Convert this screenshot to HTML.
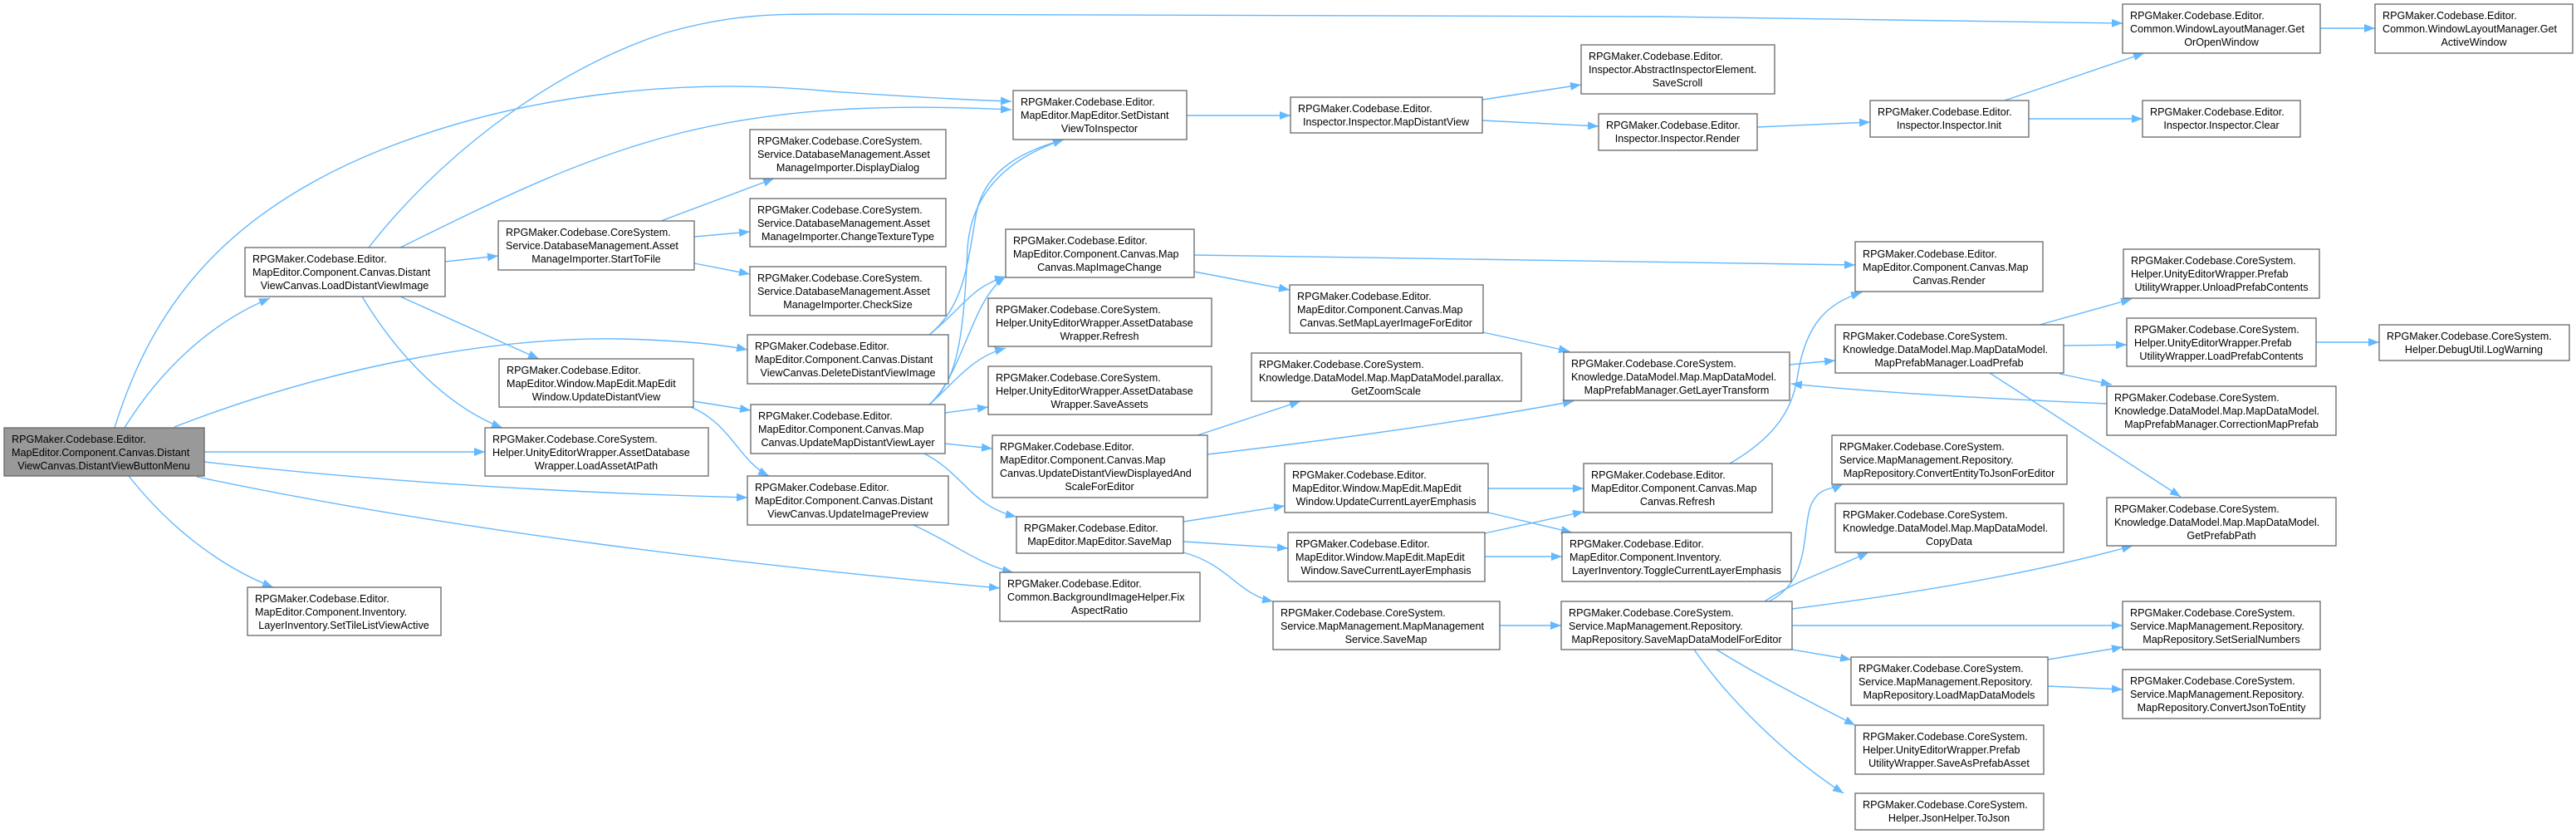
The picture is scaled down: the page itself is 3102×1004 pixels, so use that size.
<!DOCTYPE html>
<html><head><meta charset="utf-8"><style>
html,body{margin:0;padding:0;background:#fff;}
svg{display:block;}
text{font-family:"Liberation Sans",Arial,sans-serif;font-size:12.6px;fill:#000;}
.n{fill:#fff;stroke:#666;stroke-width:1.3;}
.m{fill:#999;stroke:#666;stroke-width:1.3;}
.e{fill:none;stroke:#63b8ff;stroke-width:1.4;}
</style></head><body>
<svg width="3102" height="1004" viewBox="0 0 3102 1004" xmlns="http://www.w3.org/2000/svg">
<defs><marker id="a" markerUnits="userSpaceOnUse" markerWidth="14" markerHeight="12" refX="13" refY="5" orient="auto"><path d="M0,0 L13,5 L0,10 z" fill="#63b8ff"/></marker></defs>
<g class="edges">
<path class="e" marker-end="url(#a)" d="M150,515 C190,450 250,390 325,359"/>
<path class="e" marker-end="url(#a)" d="M138,515 C180,380 260,260 460,180 C650,105 850,95 1000,110 C1100,117 1160,120 1218,122"/>
<path class="e" marker-end="url(#a)" d="M210,514 C400,440 600,405 750,408 C820,410 870,415 900,421"/>
<path class="e" marker-end="url(#a)" d="M246,544 L584,544"/>
<path class="e" marker-end="url(#a)" d="M246,556 C500,585 750,595 900,599"/>
<path class="e" marker-end="url(#a)" d="M237,574 C550,640 900,680 1204,708"/>
<path class="e" marker-end="url(#a)" d="M155,573 C200,630 260,680 329,707"/>
<path class="e" marker-end="url(#a)" d="M536,315 L600,308"/>
<path class="e" marker-end="url(#a)" d="M444,298 C520,200 650,90 800,40 C880,17 930,17 1000,17 L2000,20 L2556,28"/>
<path class="e" marker-end="url(#a)" d="M482,298 C600,240 700,190 820,160 C960,125 1100,127 1218,132"/>
<path class="e" marker-end="url(#a)" d="M482,357 L649,432"/>
<path class="e" marker-end="url(#a)" d="M436,357 C480,430 540,490 605,515"/>
<path class="e" marker-end="url(#a)" d="M796,266 L932,215"/>
<path class="e" marker-end="url(#a)" d="M836,285 L903,279"/>
<path class="e" marker-end="url(#a)" d="M836,317 L903,330"/>
<path class="e" marker-end="url(#a)" d="M835,483 L904,494"/>
<path class="e" marker-end="url(#a)" d="M832,490 C880,510 890,555 926,573"/>
<path class="e" marker-end="url(#a)" d="M1119,403 C1160,370 1165,320 1175,260 C1185,200 1240,180 1281,168"/>
<path class="e" marker-end="url(#a)" d="M1119,403 C1160,370 1170,345 1211,333"/>
<path class="e" marker-end="url(#a)" d="M1119,487 C1150,460 1160,420 1165,300 C1170,220 1230,185 1281,168"/>
<path class="e" marker-end="url(#a)" d="M1119,487 C1160,450 1170,360 1211,333"/>
<path class="e" marker-end="url(#a)" d="M1119,487 C1150,460 1170,430 1211,419"/>
<path class="e" marker-end="url(#a)" d="M1138,497 L1190,490"/>
<path class="e" marker-end="url(#a)" d="M1138,534 L1195,540"/>
<path class="e" marker-end="url(#a)" d="M1113,546 C1160,570 1170,610 1224,622"/>
<path class="e" marker-end="url(#a)" d="M1100,632 C1150,655 1180,680 1220,689"/>
<path class="e" marker-end="url(#a)" d="M1429,139 L1554,139"/>
<path class="e" marker-end="url(#a)" d="M1785,120 L1904,102"/>
<path class="e" marker-end="url(#a)" d="M1785,145 L1925,152"/>
<path class="e" marker-end="url(#a)" d="M2116,153 L2252,147"/>
<path class="e" marker-end="url(#a)" d="M2414,121 L2582,64"/>
<path class="e" marker-end="url(#a)" d="M2443,143 L2580,143"/>
<path class="e" marker-end="url(#a)" d="M2794,34 L2860,34"/>
<path class="e" marker-end="url(#a)" d="M1438,307 L2234,319"/>
<path class="e" marker-end="url(#a)" d="M1438,327 L1553,349"/>
<path class="e" marker-end="url(#a)" d="M1786,400 L1890,423"/>
<path class="e" marker-end="url(#a)" d="M1442,524 L1566,483"/>
<path class="e" marker-end="url(#a)" d="M1454,547 C1600,530 1750,510 1895,483"/>
<path class="e" marker-end="url(#a)" d="M2155,439 L2210,434"/>
<path class="e" marker-end="url(#a)" d="M2537,486 C2400,480 2250,472 2157,462"/>
<path class="e" marker-end="url(#a)" d="M2456,391 L2567,360"/>
<path class="e" marker-end="url(#a)" d="M2485,416 L2561,415"/>
<path class="e" marker-end="url(#a)" d="M2480,450 L2543,463"/>
<path class="e" marker-end="url(#a)" d="M2396,449 L2626,598"/>
<path class="e" marker-end="url(#a)" d="M2789,412 L2865,412"/>
<path class="e" marker-end="url(#a)" d="M2083,558 C2140,525 2160,490 2165,450 C2175,390 2200,365 2242,352"/>
<path class="e" marker-end="url(#a)" d="M1792,588 L1907,588"/>
<path class="e" marker-end="url(#a)" d="M1792,617 L1893,641"/>
<path class="e" marker-end="url(#a)" d="M1425,628 L1547,609"/>
<path class="e" marker-end="url(#a)" d="M1425,652 L1551,660"/>
<path class="e" marker-end="url(#a)" d="M1425,665 C1480,680 1490,715 1533,724"/>
<path class="e" marker-end="url(#a)" d="M1788,642 L1907,616"/>
<path class="e" marker-end="url(#a)" d="M1788,670 L1881,670"/>
<path class="e" marker-end="url(#a)" d="M1806,753 L1880,753"/>
<path class="e" marker-end="url(#a)" d="M2130,724 C2180,700 2170,640 2180,610 C2190,585 2205,590 2219,583"/>
<path class="e" marker-end="url(#a)" d="M2125,724 C2160,700 2200,688 2250,665"/>
<path class="e" marker-end="url(#a)" d="M2158,733 C2300,715 2450,690 2568,657"/>
<path class="e" marker-end="url(#a)" d="M2158,753 L2556,753"/>
<path class="e" marker-end="url(#a)" d="M2158,782 L2229,794"/>
<path class="e" marker-end="url(#a)" d="M2067,782 C2120,815 2180,845 2234,873"/>
<path class="e" marker-end="url(#a)" d="M2040,782 C2080,840 2150,910 2220,955"/>
<path class="e" marker-end="url(#a)" d="M2466,794 L2556,779"/>
<path class="e" marker-end="url(#a)" d="M2466,826 L2556,830"/>
</g>
<g class="nodes">
<rect class="m" x="5" y="515" width="241" height="58"/>
<text x="14" y="533">RPGMaker.Codebase.Editor.</text><text x="14" y="549">MapEditor.Component.Canvas.Distant</text><text x="125" y="565" text-anchor="middle">ViewCanvas.DistantViewButtonMenu</text>

<rect class="n" x="295" y="298" width="241" height="59"/>
<text x="304" y="316">RPGMaker.Codebase.Editor.</text><text x="304" y="332">MapEditor.Component.Canvas.Distant</text><text x="415" y="348" text-anchor="middle">ViewCanvas.LoadDistantViewImage</text>

<rect class="n" x="600" y="266" width="236" height="59"/>
<text x="609" y="284">RPGMaker.Codebase.CoreSystem.</text><text x="609" y="300">Service.DatabaseManagement.Asset</text><text x="718" y="316" text-anchor="middle">ManageImporter.StartToFile</text>

<rect class="n" x="903" y="156" width="236" height="59"/>
<text x="912" y="174">RPGMaker.Codebase.CoreSystem.</text><text x="912" y="190">Service.DatabaseManagement.Asset</text><text x="1021" y="206" text-anchor="middle">ManageImporter.DisplayDialog</text>

<rect class="n" x="903" y="239" width="236" height="58"/>
<text x="912" y="257">RPGMaker.Codebase.CoreSystem.</text><text x="912" y="273">Service.DatabaseManagement.Asset</text><text x="1021" y="289" text-anchor="middle">ManageImporter.ChangeTextureType</text>

<rect class="n" x="903" y="321" width="236" height="59"/>
<text x="912" y="339">RPGMaker.Codebase.CoreSystem.</text><text x="912" y="355">Service.DatabaseManagement.Asset</text><text x="1021" y="371" text-anchor="middle">ManageImporter.CheckSize</text>

<rect class="n" x="900" y="403" width="242" height="59"/>
<text x="909" y="421">RPGMaker.Codebase.Editor.</text><text x="909" y="437">MapEditor.Component.Canvas.Distant</text><text x="1021" y="453" text-anchor="middle">ViewCanvas.DeleteDistantViewImage</text>

<rect class="n" x="601" y="432" width="234" height="58"/>
<text x="610" y="450">RPGMaker.Codebase.Editor.</text><text x="610" y="466">MapEditor.Window.MapEdit.MapEdit</text><text x="718" y="482" text-anchor="middle">Window.UpdateDistantView</text>

<rect class="n" x="584" y="515" width="269" height="58"/>
<text x="593" y="533">RPGMaker.Codebase.CoreSystem.</text><text x="593" y="549">Helper.UnityEditorWrapper.AssetDatabase</text><text x="718" y="565" text-anchor="middle">Wrapper.LoadAssetAtPath</text>

<rect class="n" x="904" y="487" width="234" height="59"/>
<text x="913" y="505">RPGMaker.Codebase.Editor.</text><text x="913" y="521">MapEditor.Component.Canvas.Map</text><text x="1021" y="537" text-anchor="middle">Canvas.UpdateMapDistantViewLayer</text>

<rect class="n" x="900" y="573" width="242" height="59"/>
<text x="909" y="591">RPGMaker.Codebase.Editor.</text><text x="909" y="607">MapEditor.Component.Canvas.Distant</text><text x="1021" y="623" text-anchor="middle">ViewCanvas.UpdateImagePreview</text>

<rect class="n" x="298" y="707" width="233" height="58"/>
<text x="307" y="725">RPGMaker.Codebase.Editor.</text><text x="307" y="741">MapEditor.Component.Inventory.</text><text x="414" y="757" text-anchor="middle">LayerInventory.SetTileListViewActive</text>

<rect class="n" x="1220" y="109" width="209" height="59"/>
<text x="1229" y="127">RPGMaker.Codebase.Editor.</text><text x="1229" y="143">MapEditor.MapEditor.SetDistant</text><text x="1324" y="159" text-anchor="middle">ViewToInspector</text>

<rect class="n" x="1554" y="117" width="231" height="43"/>
<text x="1563" y="135">RPGMaker.Codebase.Editor.</text><text x="1669" y="151" text-anchor="middle">Inspector.Inspector.MapDistantView</text>

<rect class="n" x="1904" y="54" width="233" height="59"/>
<text x="1913" y="72">RPGMaker.Codebase.Editor.</text><text x="1913" y="88">Inspector.AbstractInspectorElement.</text><text x="2020" y="104" text-anchor="middle">SaveScroll</text>

<rect class="n" x="1925" y="137" width="191" height="44"/>
<text x="1934" y="155">RPGMaker.Codebase.Editor.</text><text x="2020" y="171" text-anchor="middle">Inspector.Inspector.Render</text>

<rect class="n" x="1211" y="276" width="227" height="58"/>
<text x="1220" y="294">RPGMaker.Codebase.Editor.</text><text x="1220" y="310">MapEditor.Component.Canvas.Map</text><text x="1324" y="326" text-anchor="middle">Canvas.MapImageChange</text>

<rect class="n" x="1190" y="359" width="269" height="58"/>
<text x="1199" y="377">RPGMaker.Codebase.CoreSystem.</text><text x="1199" y="393">Helper.UnityEditorWrapper.AssetDatabase</text><text x="1324" y="409" text-anchor="middle">Wrapper.Refresh</text>

<rect class="n" x="1190" y="441" width="269" height="58"/>
<text x="1199" y="459">RPGMaker.Codebase.CoreSystem.</text><text x="1199" y="475">Helper.UnityEditorWrapper.AssetDatabase</text><text x="1324" y="491" text-anchor="middle">Wrapper.SaveAssets</text>

<rect class="n" x="1553" y="343" width="233" height="58"/>
<text x="1562" y="361">RPGMaker.Codebase.Editor.</text><text x="1562" y="377">MapEditor.Component.Canvas.Map</text><text x="1669" y="393" text-anchor="middle">Canvas.SetMapLayerImageForEditor</text>

<rect class="n" x="1507" y="425" width="325" height="58"/>
<text x="1516" y="443">RPGMaker.Codebase.CoreSystem.</text><text x="1516" y="459">Knowledge.DataModel.Map.MapDataModel.parallax.</text><text x="1669" y="475" text-anchor="middle">GetZoomScale</text>

<rect class="n" x="1883" y="424" width="272" height="58"/>
<text x="1892" y="442">RPGMaker.Codebase.CoreSystem.</text><text x="1892" y="458">Knowledge.DataModel.Map.MapDataModel.</text><text x="2019" y="474" text-anchor="middle">MapPrefabManager.GetLayerTransform</text>

<rect class="n" x="1195" y="524" width="259" height="75"/>
<text x="1204" y="542">RPGMaker.Codebase.Editor.</text><text x="1204" y="558">MapEditor.Component.Canvas.Map</text><text x="1204" y="574">Canvas.UpdateDistantViewDisplayedAnd</text><text x="1324" y="590" text-anchor="middle">ScaleForEditor</text>

<rect class="n" x="1547" y="558" width="245" height="59"/>
<text x="1556" y="576">RPGMaker.Codebase.Editor.</text><text x="1556" y="592">MapEditor.Window.MapEdit.MapEdit</text><text x="1669" y="608" text-anchor="middle">Window.UpdateCurrentLayerEmphasis</text>

<rect class="n" x="1907" y="558" width="227" height="59"/>
<text x="1916" y="576">RPGMaker.Codebase.Editor.</text><text x="1916" y="592">MapEditor.Component.Canvas.Map</text><text x="2020" y="608" text-anchor="middle">Canvas.Refresh</text>

<rect class="n" x="1224" y="622" width="201" height="44"/>
<text x="1233" y="640">RPGMaker.Codebase.Editor.</text><text x="1324" y="656" text-anchor="middle">MapEditor.MapEditor.SaveMap</text>

<rect class="n" x="1551" y="641" width="237" height="59"/>
<text x="1560" y="659">RPGMaker.Codebase.Editor.</text><text x="1560" y="675">MapEditor.Window.MapEdit.MapEdit</text><text x="1669" y="691" text-anchor="middle">Window.SaveCurrentLayerEmphasis</text>

<rect class="n" x="1881" y="641" width="276" height="59"/>
<text x="1890" y="659">RPGMaker.Codebase.Editor.</text><text x="1890" y="675">MapEditor.Component.Inventory.</text><text x="2019" y="691" text-anchor="middle">LayerInventory.ToggleCurrentLayerEmphasis</text>

<rect class="n" x="1204" y="689" width="241" height="59"/>
<text x="1213" y="707">RPGMaker.Codebase.Editor.</text><text x="1213" y="723">Common.BackgroundImageHelper.Fix</text><text x="1324" y="739" text-anchor="middle">AspectRatio</text>

<rect class="n" x="1533" y="724" width="273" height="58"/>
<text x="1542" y="742">RPGMaker.Codebase.CoreSystem.</text><text x="1542" y="758">Service.MapManagement.MapManagement</text><text x="1669" y="774" text-anchor="middle">Service.SaveMap</text>

<rect class="n" x="1880" y="724" width="278" height="58"/>
<text x="1889" y="742">RPGMaker.Codebase.CoreSystem.</text><text x="1889" y="758">Service.MapManagement.Repository.</text><text x="2019" y="774" text-anchor="middle">MapRepository.SaveMapDataModelForEditor</text>

<rect class="n" x="2556" y="5" width="238" height="59"/>
<text x="2565" y="23">RPGMaker.Codebase.Editor.</text><text x="2565" y="39">Common.WindowLayoutManager.Get</text><text x="2675" y="55" text-anchor="middle">OrOpenWindow</text>

<rect class="n" x="2860" y="5" width="238" height="59"/>
<text x="2869" y="23">RPGMaker.Codebase.Editor.</text><text x="2869" y="39">Common.WindowLayoutManager.Get</text><text x="2979" y="55" text-anchor="middle">ActiveWindow</text>

<rect class="n" x="2252" y="121" width="191" height="44"/>
<text x="2261" y="139">RPGMaker.Codebase.Editor.</text><text x="2347" y="155" text-anchor="middle">Inspector.Inspector.Init</text>

<rect class="n" x="2580" y="121" width="190" height="44"/>
<text x="2589" y="139">RPGMaker.Codebase.Editor.</text><text x="2675" y="155" text-anchor="middle">Inspector.Inspector.Clear</text>

<rect class="n" x="2234" y="291" width="226" height="60"/>
<text x="2243" y="310">RPGMaker.Codebase.Editor.</text><text x="2243" y="326">MapEditor.Component.Canvas.Map</text><text x="2347" y="342" text-anchor="middle">Canvas.Render</text>

<rect class="n" x="2557" y="300" width="236" height="59"/>
<text x="2566" y="318">RPGMaker.Codebase.CoreSystem.</text><text x="2566" y="334">Helper.UnityEditorWrapper.Prefab</text><text x="2675" y="350" text-anchor="middle">UtilityWrapper.UnloadPrefabContents</text>

<rect class="n" x="2210" y="391" width="275" height="58"/>
<text x="2219" y="409">RPGMaker.Codebase.CoreSystem.</text><text x="2219" y="425">Knowledge.DataModel.Map.MapDataModel.</text><text x="2347" y="441" text-anchor="middle">MapPrefabManager.LoadPrefab</text>

<rect class="n" x="2561" y="383" width="228" height="58"/>
<text x="2570" y="401">RPGMaker.Codebase.CoreSystem.</text><text x="2570" y="417">Helper.UnityEditorWrapper.Prefab</text><text x="2675" y="433" text-anchor="middle">UtilityWrapper.LoadPrefabContents</text>

<rect class="n" x="2865" y="391" width="229" height="43"/>
<text x="2874" y="409">RPGMaker.Codebase.CoreSystem.</text><text x="2979" y="425" text-anchor="middle">Helper.DebugUtil.LogWarning</text>

<rect class="n" x="2537" y="465" width="276" height="59"/>
<text x="2546" y="483">RPGMaker.Codebase.CoreSystem.</text><text x="2546" y="499">Knowledge.DataModel.Map.MapDataModel.</text><text x="2675" y="515" text-anchor="middle">MapPrefabManager.CorrectionMapPrefab</text>

<rect class="n" x="2206" y="524" width="283" height="59"/>
<text x="2215" y="542">RPGMaker.Codebase.CoreSystem.</text><text x="2215" y="558">Service.MapManagement.Repository.</text><text x="2347" y="574" text-anchor="middle">MapRepository.ConvertEntityToJsonForEditor</text>

<rect class="n" x="2210" y="606" width="275" height="59"/>
<text x="2219" y="624">RPGMaker.Codebase.CoreSystem.</text><text x="2219" y="640">Knowledge.DataModel.Map.MapDataModel.</text><text x="2347" y="656" text-anchor="middle">CopyData</text>

<rect class="n" x="2537" y="599" width="276" height="58"/>
<text x="2546" y="617">RPGMaker.Codebase.CoreSystem.</text><text x="2546" y="633">Knowledge.DataModel.Map.MapDataModel.</text><text x="2675" y="649" text-anchor="middle">GetPrefabPath</text>

<rect class="n" x="2556" y="724" width="238" height="58"/>
<text x="2565" y="742">RPGMaker.Codebase.CoreSystem.</text><text x="2565" y="758">Service.MapManagement.Repository.</text><text x="2675" y="774" text-anchor="middle">MapRepository.SetSerialNumbers</text>

<rect class="n" x="2229" y="791" width="237" height="58"/>
<text x="2238" y="809">RPGMaker.Codebase.CoreSystem.</text><text x="2238" y="825">Service.MapManagement.Repository.</text><text x="2347" y="841" text-anchor="middle">MapRepository.LoadMapDataModels</text>

<rect class="n" x="2556" y="806" width="238" height="59"/>
<text x="2565" y="824">RPGMaker.Codebase.CoreSystem.</text><text x="2565" y="840">Service.MapManagement.Repository.</text><text x="2675" y="856" text-anchor="middle">MapRepository.ConvertJsonToEntity</text>

<rect class="n" x="2234" y="873" width="227" height="59"/>
<text x="2243" y="891">RPGMaker.Codebase.CoreSystem.</text><text x="2243" y="907">Helper.UnityEditorWrapper.Prefab</text><text x="2347" y="923" text-anchor="middle">UtilityWrapper.SaveAsPrefabAsset</text>

<rect class="n" x="2234" y="955" width="227" height="44"/>
<text x="2243" y="973">RPGMaker.Codebase.CoreSystem.</text><text x="2347" y="989" text-anchor="middle">Helper.JsonHelper.ToJson</text>
</g>
</svg>
</body></html>
